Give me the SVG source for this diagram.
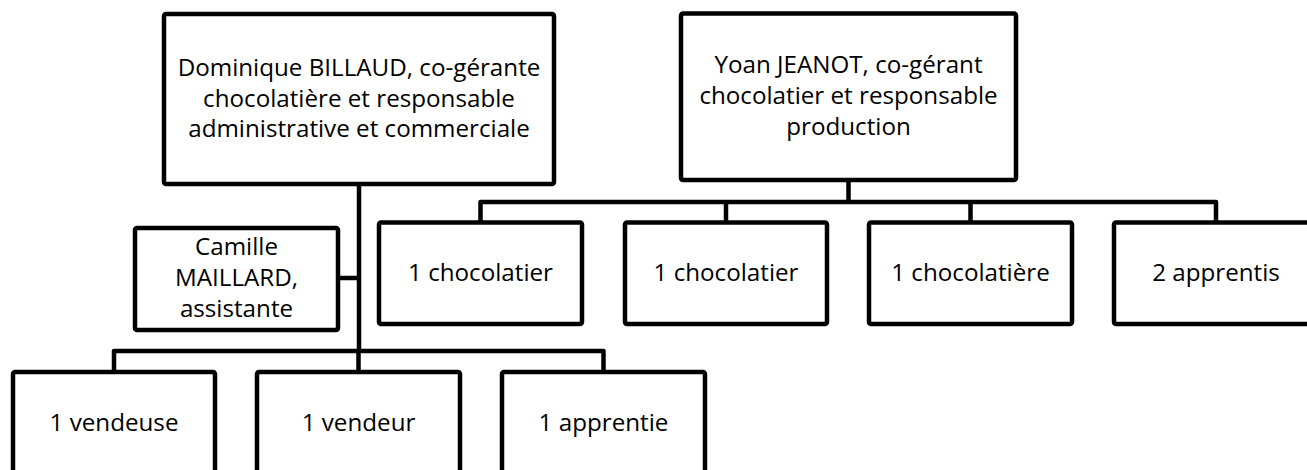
<svg xmlns="http://www.w3.org/2000/svg" width="1307" height="470" viewBox="0 0 1307 470">
<style>
.box{fill:#ffffff;stroke:#000000;stroke-width:4.5;stroke-linejoin:round}
.conn{fill:none;stroke:#000000;stroke-width:4.5;stroke-linejoin:round}
.t{font-family:"Open Sans","Liberation Sans",sans-serif;font-size:24.2px;fill:#000000;text-anchor:middle}
</style>
<rect width="1307" height="470" fill="#ffffff"/>
<g id="connectors">
<path class="conn" d="M848.5 180 V202 M480.5 222 V202 H1216 V222 M726 202 V222 M970.5 202 V222"/>
<path class="conn" d="M359 184 V351 M338 278 H359 M114 372 V351 H603.5 V372 M358.5 351 V372"/>
</g>
<g id="n-dominique">
<rect class="box" x="164" y="14" width="390" height="170" rx="2"/>
<text class="t" x="359" y="76">Dominique BILLAUD, co-gérante</text>
<text class="t" x="359" y="107">chocolatière et responsable</text>
<text class="t" x="359" y="137">administrative et commerciale</text>
</g>
<g id="n-yoan">
<rect class="box" x="681" y="13.5" width="335" height="166.5" rx="2"/>
<text class="t" x="848.5" y="73">Yoan JEANOT, co-gérant</text>
<text class="t" x="848.5" y="104">chocolatier et responsable</text>
<text class="t" x="848.5" y="135">production</text>
</g>
<g id="n-camille">
<rect class="box" x="135" y="228" width="203" height="102" rx="2"/>
<text class="t" x="236.5" y="255">Camille</text>
<text class="t" x="236.5" y="286">MAILLARD,</text>
<text class="t" x="236.5" y="317">assistante</text>
</g>
<g id="n-chocolatier1">
<rect class="box" x="379" y="222.5" width="203" height="101.5" rx="2"/>
<text class="t" x="480.5" y="281">1 chocolatier</text>
</g>
<g id="n-chocolatier2">
<rect class="box" x="625" y="222.5" width="202" height="101.5" rx="2"/>
<text class="t" x="726" y="281">1 chocolatier</text>
</g>
<g id="n-chocolatiere">
<rect class="box" x="869" y="222.5" width="203" height="101.5" rx="2"/>
<text class="t" x="970.5" y="281">1 chocolatière</text>
</g>
<g id="n-apprentis">
<rect class="box" x="1114" y="222.5" width="203" height="101.5" rx="2"/>
<text class="t" x="1216" y="281">2 apprentis</text>
</g>
<g id="n-vendeuse">
<rect class="box" x="13" y="372" width="202" height="104" rx="2"/>
<text class="t" x="114" y="431">1 vendeuse</text>
</g>
<g id="n-vendeur">
<rect class="box" x="257" y="372" width="203" height="104" rx="2"/>
<text class="t" x="358.5" y="431">1 vendeur</text>
</g>
<g id="n-apprentie">
<rect class="box" x="502" y="372" width="203" height="104" rx="2"/>
<text class="t" x="603.5" y="431">1 apprentie</text>
</g>
</svg>
